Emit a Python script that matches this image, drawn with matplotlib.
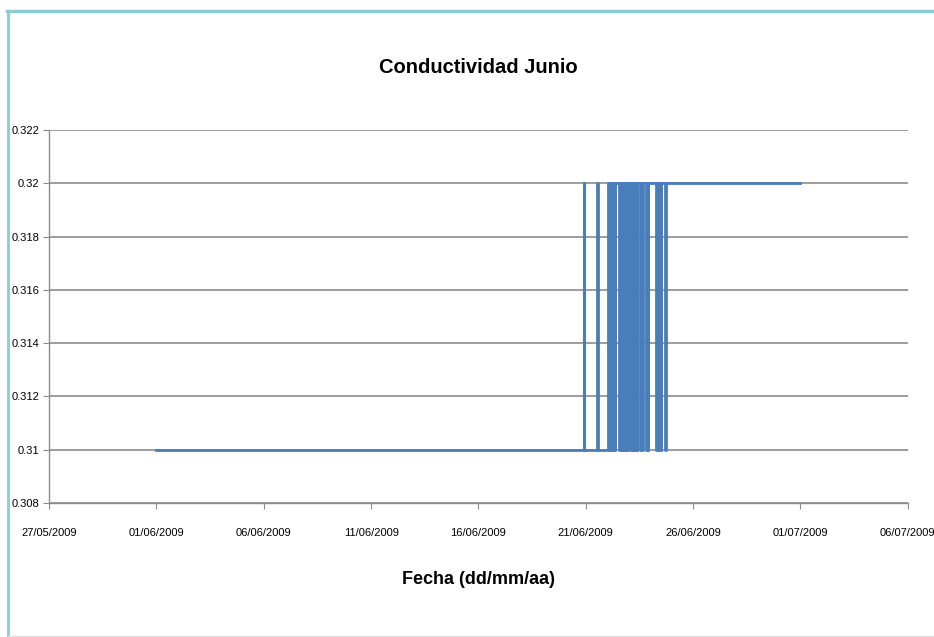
import pandas as pd
import matplotlib
matplotlib.use("Agg")
import matplotlib.pyplot as plt
import matplotlib.dates as mdates
from matplotlib.lines import Line2D

# conductividad registrada en junio 2009 (solo cambios de valor)
fecha = [
    "2009-06-01 00:00",
    "2009-06-20 21:15", "2009-06-20 21:30", "2009-06-20 21:45",
    "2009-06-21 12:45", "2009-06-21 13:00", "2009-06-21 13:15",
    "2009-06-22 01:00", "2009-06-22 01:15", "2009-06-22 02:30", "2009-06-22 03:00",
    "2009-06-22 04:30", "2009-06-22 05:00", "2009-06-22 06:30", "2009-06-22 07:00",
    "2009-06-22 08:45", "2009-06-22 09:00",
    "2009-06-22 13:30", "2009-06-22 13:45",
    "2009-06-22 15:45", "2009-06-22 16:00", "2009-06-22 17:30", "2009-06-22 18:00",
    "2009-06-22 19:30", "2009-06-22 20:00", "2009-06-22 21:30", "2009-06-22 22:00",
    "2009-06-22 23:15", "2009-06-22 23:30",
    "2009-06-23 02:00", "2009-06-23 02:15", "2009-06-23 04:00", "2009-06-23 04:30",
    "2009-06-23 06:00", "2009-06-23 06:30", "2009-06-23 08:30", "2009-06-23 08:45",
    "2009-06-23 09:30", "2009-06-23 09:45",
    "2009-06-23 13:00", "2009-06-23 13:15",
    "2009-06-23 15:15", "2009-06-23 15:30",
    "2009-06-23 19:45", "2009-06-23 20:00", "2009-06-23 21:45", "2009-06-23 22:00",
    "2009-06-24 07:00", "2009-06-24 07:15", "2009-06-24 09:00", "2009-06-24 09:30",
    "2009-06-24 12:15", "2009-06-24 12:30",
    "2009-06-24 17:00", "2009-06-24 17:15",
    "2009-07-01 00:00",
]
conductividad = [
    0.31,
    0.31, 0.32, 0.31,
    0.31, 0.32, 0.31,
    0.31, 0.32, 0.31, 0.32,
    0.31, 0.32, 0.31, 0.32,
    0.31, 0.32,
    0.31, 0.32,
    0.31, 0.32, 0.31, 0.32,
    0.31, 0.32, 0.31, 0.32,
    0.31, 0.32,
    0.31, 0.32, 0.31, 0.32,
    0.31, 0.32, 0.31, 0.32,
    0.31, 0.32,
    0.31, 0.32,
    0.31, 0.32,
    0.31, 0.32, 0.31, 0.32,
    0.31, 0.32, 0.31, 0.32,
    0.31, 0.32,
    0.31, 0.32,
    0.32,
]

x_ticks = pd.date_range("2009-05-27", "2009-07-06", freq="5D")
y_ticks = [0.308, 0.31, 0.312, 0.314, 0.316, 0.318, 0.32, 0.322]

plt.rcParams['font.family'] = ['Liberation Sans', 'DejaVu Sans']

fig = plt.figure(figsize=(9.34, 6.37), dpi=100)
ax = fig.add_axes([0.0525, 0.2104, 0.9195, 0.5856])

t = pd.to_datetime(fecha)
ax.plot(t, conductividad, color='#4a7ebb', lw=2.0, drawstyle='steps-post')

ax.set_xlim(x_ticks[0], x_ticks[-1])
ax.set_ylim(0.308, 0.322)
ax.set_xticks(x_ticks)
ax.xaxis.set_major_formatter(mdates.DateFormatter('%d/%m/%Y'))
ax.set_yticks(y_ticks)
ax.set_yticklabels([f"{v:g}" for v in y_ticks])

ax.grid(axis='y', color='#8c8c8c', lw=1.2)
ax.set_axisbelow(True)
for s in ['top', 'right']:
    ax.spines[s].set_visible(False)
for s in ['left', 'bottom']:
    ax.spines[s].set_color('#8c8c8c')
    ax.spines[s].set_linewidth(1.0)
ax.tick_params(axis='both', colors='#8c8c8c', length=4, labelsize=8,
               labelcolor='black')
ax.tick_params(axis='x', pad=14)
ax.tick_params(axis='y', pad=3)

ax.set_title("Conductividad Junio", fontsize=14.5, fontweight='bold', pad=41)
ax.set_xlabel("Fecha (dd/mm/aa)", fontsize=13, fontweight='bold', labelpad=24)

# marco del grafico
fig.add_artist(Line2D([0.0075, 1.0], [0.982, 0.982], color='#8ecad6', lw=2.5))
fig.add_artist(Line2D([0.0085, 0.0085], [0.0, 0.982], color='#8ecad6', lw=2.0))
fig.add_artist(Line2D([0.0085, 1.0], [0.002, 0.002], color='#dddddd', lw=1.0))

fig.savefig("out.png", dpi=100)
